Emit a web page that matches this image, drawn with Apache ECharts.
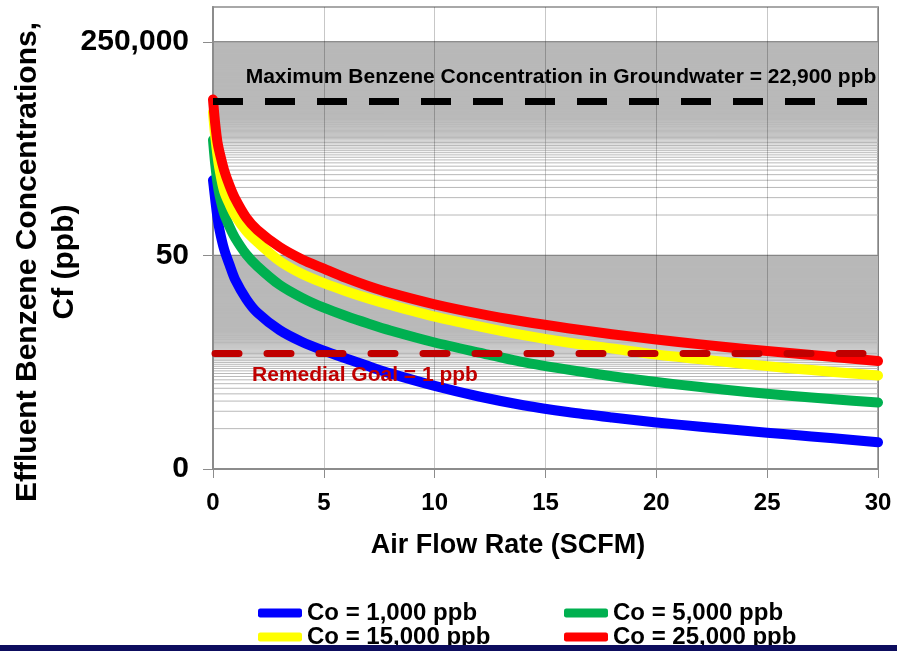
<!DOCTYPE html>
<html>
<head>
<meta charset="utf-8">
<script src="https://cdn.jsdelivr.net/npm/echarts@6/dist/echarts.min.js"></script>
<style>
  html, body { margin: 0; padding: 0; background: #fff; }
  #chart { width: 897px; height: 651px; }
</style>
</head>
<body>
<div id="chart"></div>
<script>
// air flow rate (SCFM) and effluent concentration Cf (ppb)
var flowRate = [0, 0.05, 0.1, 0.2, 0.3, 0.5, 0.75, 1, 1.5, 2, 3, 4, 5, 6, 7, 8, 10, 12, 14, 16, 18, 20, 22, 24, 26, 28, 30];
var cfCo1000 = [1000, 680, 462, 229, 135, 64, 34, 19, 8.8, 5.1, 2.55, 1.6, 1.12, 0.82, 0.605, 0.452, 0.275, 0.18, 0.127, 0.097, 0.078, 0.064, 0.054, 0.046, 0.0395, 0.034, 0.029];
var cfCo5000 = [5000, 3000, 1900, 900, 540, 265, 155, 100, 52, 32.5, 15.5, 9.3, 6.2, 4.45, 3.3, 2.5, 1.55, 1.04, 0.71, 0.526, 0.404, 0.32, 0.262, 0.218, 0.186, 0.161, 0.142];
var cfCo15000 = [15000, 9000, 5800, 2700, 1500, 650, 380, 244, 132, 85, 40, 24, 16.5, 12, 9, 6.95, 4.35, 2.96, 2.08, 1.55, 1.22, 0.96, 0.795, 0.66, 0.557, 0.48, 0.415];
var cfCo25000 = [25000, 15000, 9500, 4600, 3000, 1500, 800, 480, 225, 138, 70, 43, 29.5, 20.4, 14.8, 11.2, 7.1, 4.9, 3.58, 2.74, 2.16, 1.75, 1.44, 1.2, 1.02, 0.87, 0.74];

var seriesNames = ['Co = 1,000 ppb', 'Co = 5,000 ppb', 'Co = 15,000 ppb', 'Co = 25,000 ppb'];
var seriesColors = ['#0000ff', '#00b050', '#ffff00', '#ff0000'];
var seriesValues = [cfCo1000, cfCo5000, cfCo15000, cfCo25000];

var yTickValues = [0.01, 50, 250000];
var maxGroundwater = 22900;
var remedialGoal = 1;

// excel style minor gridlines: every 5x the major value inside each major band
var minorSteps = [0.05, 250];
var FONT = "'Liberation Sans', Arial, sans-serif";

var gridLines = [];
minorSteps.forEach(function (step) {
    for (var k = 1; k < 1000; k++) {
        gridLines.push([0, +(k * step).toFixed(2), 0]);
    }
});
gridLines.push([0, 50, 1], [0, 250000, 1]);

function pairs(xs, ys) {
    return xs.map(function (x, i) { return [x, ys[i]]; });
}

var chart = echarts.init(document.getElementById('chart'));

var series = [{
    type: 'custom',
    name: 'grid',
    silent: true,
    z: 1,
    data: gridLines,
    encode: { x: 0, y: 1 },
    renderItem: function (params, api) {
        var y = api.coord([0, api.value(1)])[1];
        var cs = params.coordSys;
        var major = api.value(2) === 1;
        return {
            type: 'line',
            shape: { x1: cs.x, y1: y, x2: cs.x + cs.width, y2: y },
            style: { stroke: major ? '#7f7f7f' : '#b9b9b9', lineWidth: 1 }
        };
    }
}];

seriesValues.forEach(function (vals, i) {
    series.push({
        type: 'line',
        name: seriesNames[i],
        data: pairs(flowRate, vals),
        smooth: 0.3,
        showSymbol: false,
        z: 2,
        lineStyle: { color: seriesColors[i], width: 10, join: 'round', cap: 'round' },
        itemStyle: { color: seriesColors[i] }
    });
});

series[series.length - 1].markLine = {
    silent: true,
    symbol: 'none',
    animation: false,
    label: { show: false },
    data: [
        { yAxis: maxGroundwater, lineStyle: { color: '#000', width: 7, type: [30, 22], cap: 'butt' } },
        { yAxis: remedialGoal, lineStyle: { color: '#c00000', width: 7, type: [24, 28], cap: 'round', dashOffset: -2 } }
    ]
};

var option = {
    animation: false,
    backgroundColor: '#fff',
    grid: {
        left: 213, right: 19, top: 7, bottom: 182,
        show: true, borderColor: '#a8a8a8', borderWidth: 2
    },
    xAxis: {
        type: 'value',
        min: 0, max: 30, interval: 5,
        z: 1.5,
        axisLine: { lineStyle: { color: '#8c8c8c', width: 2 } },
        axisTick: { length: 9, lineStyle: { color: '#8c8c8c', width: 1 } },
        axisLabel: { margin: 22, color: '#000', fontSize: 24, fontWeight: 'bold', fontFamily: FONT },
        splitLine: { show: true, lineStyle: { color: 'rgba(0,0,0,0.22)', width: 1 } }
    },
    yAxis: {
        type: 'log',
        logBase: 10,
        min: 0.01, max: 1000000,
        z: 1.5,
        axisLine: { show: true, lineStyle: { color: '#8c8c8c', width: 2 } },
        axisTick: { show: true, length: 10, customValues: yTickValues, lineStyle: { color: '#8c8c8c' } },
        axisLabel: {
            customValues: yTickValues,
            margin: 24,
            color: '#000', fontSize: 30, fontWeight: 'bold', fontFamily: FONT,
            formatter: function (v) { return v < 1 ? '0' : v.toLocaleString('en-US'); }
        },
        splitLine: { show: false },
        minorSplitLine: { show: false }
    },
    legend: [{
        left: 258, top: 601, padding: 0, orient: 'vertical', itemGap: 0,
        itemWidth: 44, itemHeight: 9, icon: 'roundRect',
        textStyle: { fontSize: 24, fontWeight: 'bold', color: '#000', fontFamily: FONT, lineHeight: 22 },
        data: [seriesNames[0], seriesNames[2]]
    }, {
        left: 564, top: 601, padding: 0, orient: 'vertical', itemGap: 0,
        itemWidth: 44, itemHeight: 9, icon: 'roundRect',
        textStyle: { fontSize: 24, fontWeight: 'bold', color: '#000', fontFamily: FONT, lineHeight: 22 },
        data: [seriesNames[1], seriesNames[3]]
    }],
    graphic: [{
        type: 'text', x: 561, y: 77, z: 20,
        style: { text: 'Maximum Benzene Concentration in Groundwater = 22,900 ppb', fill: '#000',
            font: 'bold 21px ' + FONT, align: 'center', verticalAlign: 'middle' }
    }, {
        type: 'text', x: 365, y: 375, z: 20,
        style: { text: 'Remedial Goal = 1 ppb', fill: '#c00000',
            font: 'bold 21px ' + FONT, align: 'center', verticalAlign: 'middle' }
    }, {
        type: 'text', x: 508, y: 546, z: 20,
        style: { text: 'Air Flow Rate (SCFM)', fill: '#000',
            font: 'bold 27px ' + FONT, align: 'center', verticalAlign: 'middle' }
    }, {
        type: 'text', x: 46, y: 262, z: 20, rotation: Math.PI / 2,
        style: { text: 'Effluent Benzene Concentrations,\nCf (ppb)', fill: '#000',
            font: 'bold 30px ' + FONT, lineHeight: 37, align: 'center', verticalAlign: 'middle' }
    }, {
        type: 'rect', z: 50,
        shape: { x: 0, y: 645, width: 897, height: 6 },
        style: { fill: '#0d0d5e' }
    }],
    series: series
};

chart.setOption(option);
</script>
</body>
</html>
